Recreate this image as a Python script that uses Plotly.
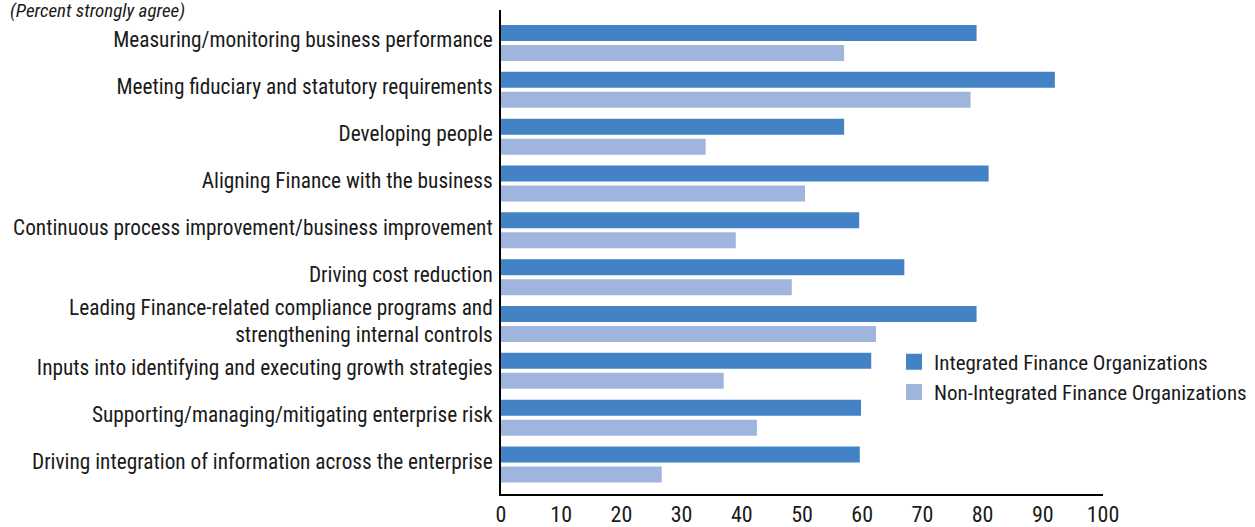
import plotly.graph_objects as go

categories = [
    "Measuring/monitoring business performance",
    "Meeting fiduciary and statutory requirements",
    "Developing people",
    "Aligning Finance with the business",
    "Continuous process improvement/business improvement",
    "Driving cost reduction",
    "Leading Finance-related compliance programs and<br>strengthening internal controls",
    "Inputs into identifying and executing growth strategies",
    "Supporting/managing/mitigating enterprise risk",
    "Driving integration of information across the enterprise",
]
integrated = [79, 92, 57, 81, 59.5, 67, 79, 61.5, 59.8, 59.6]
non_integrated = [57, 78, 34, 50.5, 39, 48.3, 62.3, 37, 42.5, 26.7]
series_names = ["Integrated Finance Organizations", "Non-Integrated Finance Organizations"]
x_ticks = list(range(0, 101, 10))

FONT = "Liberation Sans Narrow, Roboto Condensed, Arial Narrow, Roboto, sans-serif"
DARK = "#4382c4"
LIGHT = "#9fb5de"
colors = [DARK, LIGHT]

fig = go.Figure()
for name, vals, col in zip(series_names, [integrated, non_integrated], colors):
    fig.add_trace(go.Bar(y=categories, x=vals, orientation="h", name=name,
                         marker=dict(color=col, line=dict(width=0)), showlegend=False))
# legend-only entries with larger square swatches
for i, (name, col) in enumerate(zip(series_names, colors)):
    fig.add_trace(go.Scatter(x=[None], y=[None], mode="markers", name=name,
                             legendgroup=f"g{i}",
                             marker=dict(symbol="square", size=16, color=col, line=dict(width=0))))

fig.update_layout(
    width=1255, height=527,
    margin=dict(l=501, r=152, t=10, b=33, pad=0, autoexpand=False),
    paper_bgcolor="white", plot_bgcolor="white",
    barmode="group", bargap=0.145, bargroupgap=0.2,
    font=dict(family=FONT, size=21.3, color="#1a1a1a"),
    showlegend=True,
    legend=dict(xref="container", yref="container",
                x=894 / 1255, xanchor="left", y=1 - 377 / 527, yanchor="middle",
                font=dict(size=21), tracegroupgap=0, itemwidth=30,
                bgcolor="rgba(0,0,0,0)"),
    xaxis=dict(range=[0, 100], tickvals=x_ticks, showgrid=False, zeroline=False,
               showline=True, linecolor="#000", linewidth=1.5, ticks="",
               tickfont=dict(size=22), fixedrange=True),
    yaxis=dict(type="category", range=[9.63, -0.705], showgrid=False, zeroline=False,
               showline=True, linecolor="#000", linewidth=2, ticks="",
               ticklabelstandoff=2, ticklabelshift=3, tickfont=dict(size=21.3), fixedrange=True),
    annotations=[dict(text="<i>(Percent strongly agree)</i>", x=(8 - 501) / 602, xref="paper",
                      xanchor="left", y=1.0, yref="paper", yanchor="middle", yshift=0,
                      showarrow=False, font=dict(size=19, color="#1a1a1a"))],
)

fig.write_html("out.html", config={"displayModeBar": False},
               post_script="document.body.style.margin='0';document.body.style.overflow='hidden';")
